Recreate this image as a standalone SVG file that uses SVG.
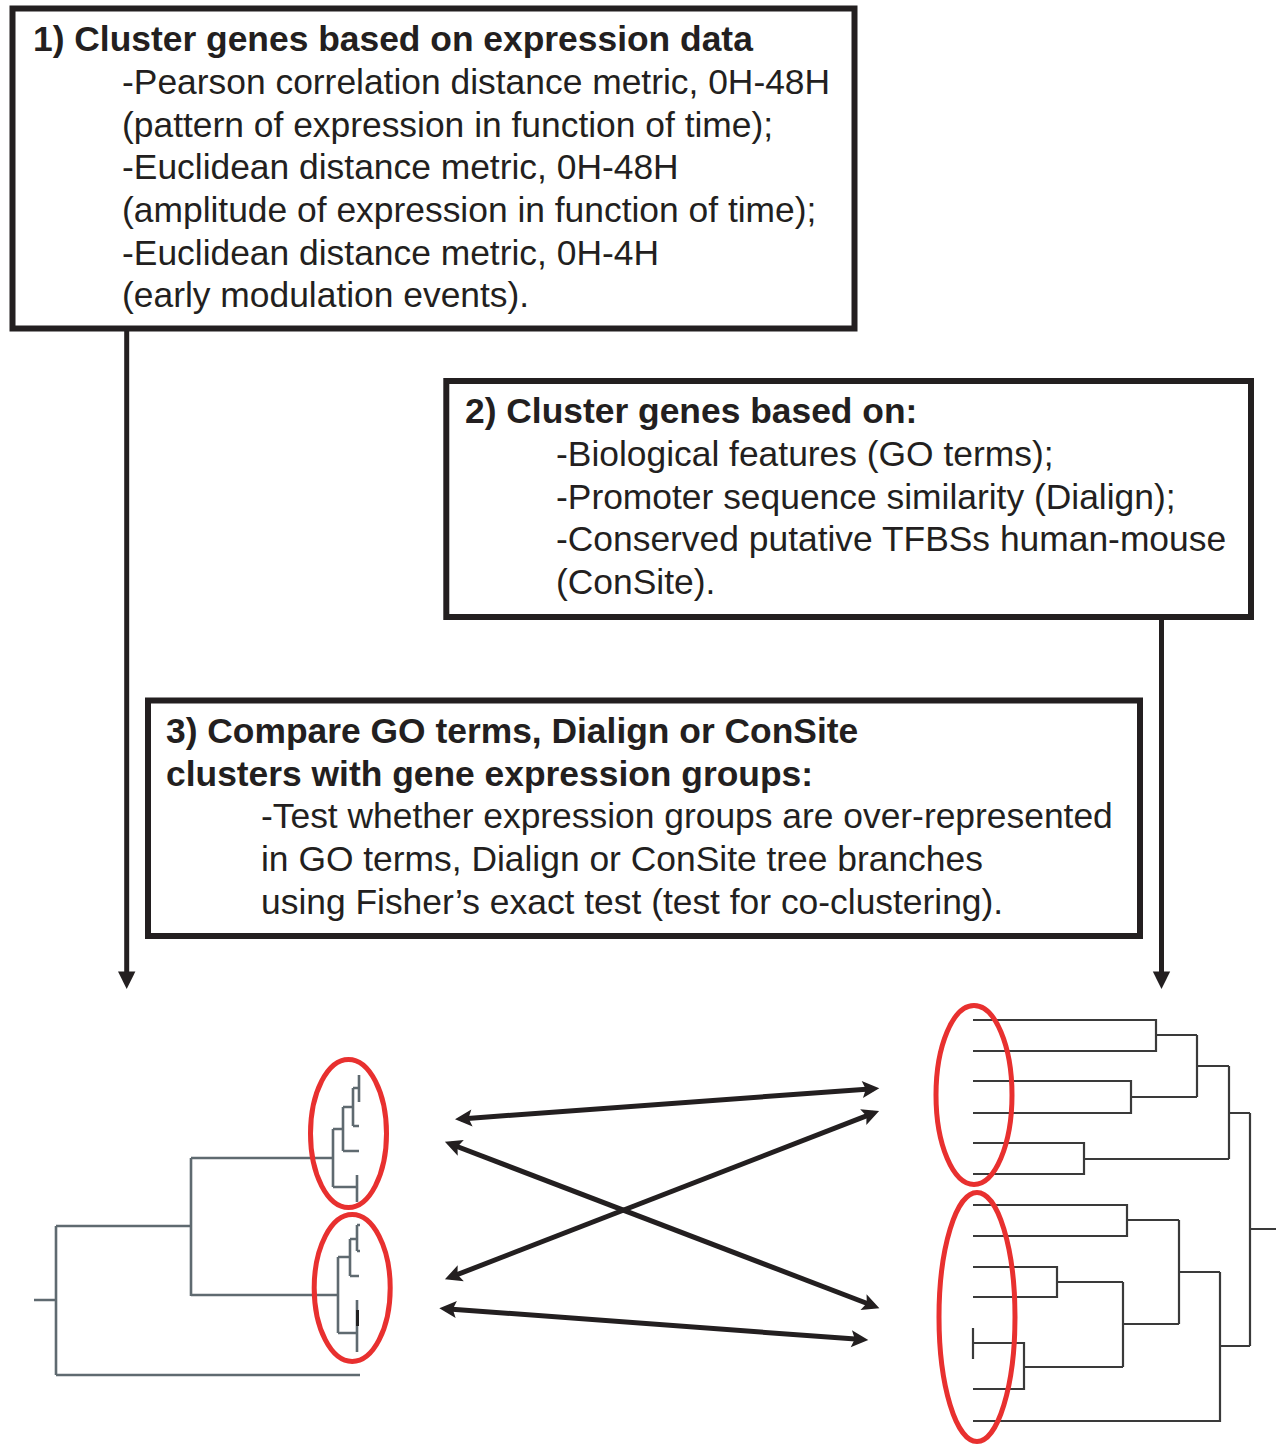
<svg xmlns="http://www.w3.org/2000/svg" width="1276" height="1446" viewBox="0 0 1276 1446">
<style>
.box{fill:#fff;stroke:#231f20;stroke-width:6}
.t{font-family:"Liberation Sans",Arial,sans-serif;font-size:35.4px;fill:#231f20}
.b{font-weight:bold}
.conn{fill:none;stroke:#231f20;stroke-width:5}
.dl{fill:none;stroke:#5f6a70;stroke-width:2.6}
.dr{fill:none;stroke:#3a3a3a;stroke-width:2.2}
.ring{fill:none;stroke:#e8302f;stroke-width:5}
</style>
<defs>
<marker id="tri" markerUnits="userSpaceOnUse" viewBox="-20 -10 22 20" markerWidth="22" markerHeight="20" refX="-6" refY="0" orient="auto-start-reverse">
<path d="M0,0 L-17.5,-8.7 L-17.5,8.7 Z" fill="#231f20"/>
</marker>
<marker id="dbl" markerUnits="userSpaceOnUse" viewBox="-20 -10 22 20" markerWidth="22" markerHeight="20" refX="-6" refY="0" orient="auto-start-reverse">
<path d="M0,0 L-17,-8.5 L-13.5,0 L-17,8.5 Z" fill="#231f20"/>
</marker>
</defs>

<g id="connectors">
<path class="conn" d="M126.7,331 V983" marker-end="url(#tri)"/>
<path class="conn" d="M1161.5,617 V983" marker-end="url(#tri)"/>
<path class="conn" d="M461,1118.9 L873.3,1088.7" marker-start="url(#dbl)" marker-end="url(#dbl)"/>
<path class="conn" d="M450.5,1144 L873.8,1306" marker-start="url(#dbl)" marker-end="url(#dbl)"/>
<path class="conn" d="M450.5,1277.2 L873.5,1113.2" marker-start="url(#dbl)" marker-end="url(#dbl)"/>
<path class="conn" d="M445.3,1308.7 L862.3,1339.6" marker-start="url(#dbl)" marker-end="url(#dbl)"/>
</g>

<g id="box1">
<rect class="box" x="12.5" y="8.5" width="842" height="320"/>
<text class="t b" x="33" y="51">1) Cluster genes based on expression data</text>
<text class="t" x="122" y="94">-Pearson correlation distance metric, 0H-48H</text>
<text class="t" x="122" y="137">(pattern of expression in function of time);</text>
<text class="t" x="122" y="179">-Euclidean distance metric, 0H-48H</text>
<text class="t" x="122" y="222">(amplitude of expression in function of time);</text>
<text class="t" x="122" y="265">-Euclidean distance metric, 0H-4H</text>
<text class="t" x="122" y="307">(early modulation events).</text>
</g>

<g id="box2">
<rect class="box" x="446.3" y="381" width="804.7" height="236"/>
<text class="t b" x="465" y="423">2) Cluster genes based on:</text>
<text class="t" x="556" y="466">-Biological features (GO terms);</text>
<text class="t" x="556" y="509">-Promoter sequence similarity (Dialign);</text>
<text class="t" x="556" y="551">-Conserved putative TFBSs human-mouse</text>
<text class="t" x="556" y="594">(ConSite).</text>
</g>

<g id="box3">
<rect class="box" x="148" y="700.5" width="992" height="235.5"/>
<text class="t b" x="166" y="743">3) Compare GO terms, Dialign or ConSite</text>
<text class="t b" x="166" y="786">clusters with gene expression groups:</text>
<text class="t" x="261" y="828">-Test whether expression groups are over-represented</text>
<text class="t" x="261" y="871">in GO terms, Dialign or ConSite tree branches</text>
<text class="t" x="261" y="914">using Fisher’s exact test (test for co-clustering).</text>
</g>

<g id="expression-tree">
<path class="dl" d="M34,1300 H56 M56,1226 V1375 M56,1226 H191 M191,1158 V1296 M191,1158 H333 M191,1295 H338 M56,1375 H360
M333,1129 V1187 M333,1129 H343 M343,1107 V1151 M343,1151 H359 M343,1107 H353 M353,1088 V1126 M353,1126 H359 M353,1088 H359 M359,1075 V1102 M333,1187 H357 M357,1175 V1202
M338,1257 V1333 M338,1257 H350 M350,1239 V1276 M350,1276 H359 M350,1239 H357 M357,1225 V1251 M357,1225 H360 M357,1251 H360 M338,1333 H357 M357,1300 V1352"/>
<path d="M357.5,1310 V1326" stroke="#222" stroke-width="3" fill="none"/>
<ellipse class="ring" cx="348.5" cy="1133.5" rx="38" ry="74"/>
<ellipse class="ring" cx="352.2" cy="1288" rx="38" ry="73.5"/>
</g>

<g id="feature-tree">
<path class="dr" d="M973,1020 H1156 V1051 H973 M1156,1035 H1197 M973,1081 H1131 V1113 H973 M1131,1097 H1197 M1197,1035 V1097 M1197,1066 H1229
M973,1143 H1084 V1174 H973 M1084,1159 H1229 M1229,1066 V1159 M1229,1113 H1250
M973,1205 H1127 V1236 H973 M1127,1220 H1179 M973,1267 H1057 V1297 H973 M1057,1282 H1123
M973,1328 V1359 M973,1343 H1024 V1389 H973 M1024,1367 H1123 M1123,1282 V1367 M1123,1324 H1179 M1179,1220 V1324 M1179,1272 H1220
M973,1421 H1220 V1272 M1220,1346 H1250 M1250,1113 V1346 M1250,1229 H1276"/>
<ellipse class="ring" cx="974" cy="1095" rx="38" ry="89.5"/>
<ellipse class="ring" cx="977" cy="1317" rx="38" ry="124.5"/>
</g>
</svg>
